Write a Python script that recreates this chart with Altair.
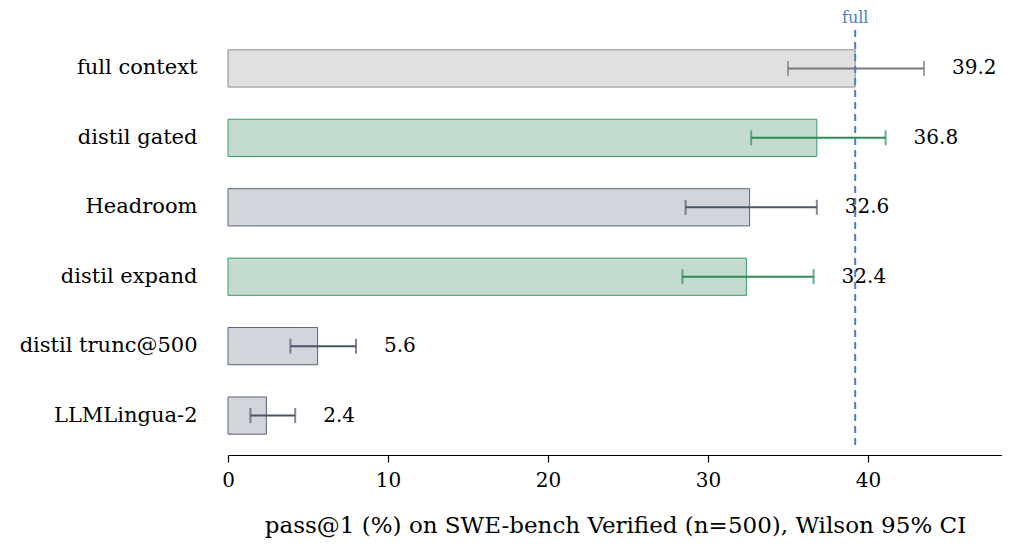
import altair as alt
import pandas as pd

methods = ["full context", "distil gated", "Headroom", "distil expand", "distil trunc@500", "LLMLingua-2"]
values = [39.2, 36.8, 32.6, 32.4, 5.6, 2.4]
ci_lo = [35.0, 32.7, 28.6, 28.4, 3.9, 1.4]
ci_hi = [43.5, 41.1, 36.8, 36.6, 8.0, 4.2]
groups = ["full", "distil", "baseline", "distil", "baseline", "baseline"]
ref_value = 39.2
ref_label = "full"

df = pd.DataFrame({
    "method": methods, "value": values, "lo": ci_lo, "hi": ci_hi, "group": groups,
    "label": [f"{v:.1f}" for v in values],
})

FONT = "DejaVu Serif"
gdom = ["full", "distil", "baseline"]
fill_scale = alt.Scale(domain=gdom, range=["#e0e0e0", "#c3dccf", "#d3d5dd"])
stroke_scale = alt.Scale(domain=gdom, range=["#8c8c8c", "#3a9a66", "#5a6378"])
err_scale = alt.Scale(domain=gdom, range=["#7a7a7a", "#2e8b57", "#4a5568"])

PAD_LEFT = 220
W = 994 - PAD_LEFT
PXU = 16.0
xscale = alt.Scale(domain=[0, W / PXU], nice=False, zero=True)
yscale = alt.Scale(domain=methods, paddingInner=0.464, paddingOuter=0.3)

base = alt.Chart(df)

y_enc = alt.Y("method:N", scale=yscale, sort=methods,
              axis=alt.Axis(title=None, domain=False, ticks=False, labelPadding=31,
                            labelLimit=400, labelFont=FONT, labelFontSize=21,
                            labelColor="#000000"))

bars = base.mark_bar(strokeWidth=1).encode(
    x=alt.X("value:Q", scale=xscale,
            axis=alt.Axis(title="pass@1 (%) on SWE-bench Verified (n=500), Wilson 95% CI",
                          values=[0, 10, 20, 30, 40], grid=False, tickSize=7,
                          tickColor="#000000", domainColor="#000000", domainWidth=1.2,
                          tickWidth=1.2, labelFont=FONT, labelFontSize=20,
                          labelColor="#000000", labelPadding=8, labelFlush=False,
                          titleFont=FONT, titleFontSize=23, titleFontWeight="normal",
                          titleColor="#000000", titlePadding=24)),
    y=y_enc,
    fill=alt.Fill("group:N", scale=fill_scale, legend=None),
    stroke=alt.Stroke("group:N", scale=stroke_scale, legend=None),
)

err = base.mark_rule(strokeWidth=2).encode(
    x=alt.X("lo:Q", scale=xscale), x2="hi:Q", y=alt.Y("method:N", scale=yscale, sort=methods),
    color=alt.Color("group:N", scale=err_scale, legend=None),
)
cap_lo = base.mark_tick(orient="vertical", size=15, thickness=2).encode(
    x=alt.X("lo:Q", scale=xscale), y=alt.Y("method:N", scale=yscale, sort=methods),
    color=alt.Color("group:N", scale=err_scale, legend=None),
)
cap_hi = base.mark_tick(orient="vertical", size=15, thickness=2).encode(
    x=alt.X("hi:Q", scale=xscale), y=alt.Y("method:N", scale=yscale, sort=methods),
    color=alt.Color("group:N", scale=err_scale, legend=None),
)

labels = base.mark_text(align="left", baseline="middle", dx=28, font=FONT, fontSize=20,
                        color="#000000").encode(
    x=alt.X("hi:Q", scale=xscale), y=alt.Y("method:N", scale=yscale, sort=methods),
    text="label:N",
)

ref_df = pd.DataFrame({"x": [ref_value], "t": [ref_label]})
ref_rule = alt.Chart(ref_df).mark_rule(color="#4a7fc1", strokeWidth=2, strokeDash=[7, 5]).encode(
    x=alt.X("x:Q", scale=xscale), y=alt.value(1), y2=alt.value(419),
)
ref_text = alt.Chart(ref_df).mark_text(color="#4a7fc1", font=FONT, fontSize=16,
                                       baseline="alphabetic", align="center").encode(
    x=alt.X("x:Q", scale=xscale), y=alt.value(-6), text="t:N",
)

chart = alt.layer(bars, err, cap_lo, cap_hi, labels, ref_rule, ref_text).properties(
    width=W, height=426,
    background="white",
    autosize=alt.AutoSizeParams(type="none"),
    padding={"left": PAD_LEFT, "top": 21, "right": 0, "bottom": 83},
).configure_view(strokeWidth=0, stroke="transparent")

chart.save("out.html", embed_options={"renderer": "svg", "actions": False})
